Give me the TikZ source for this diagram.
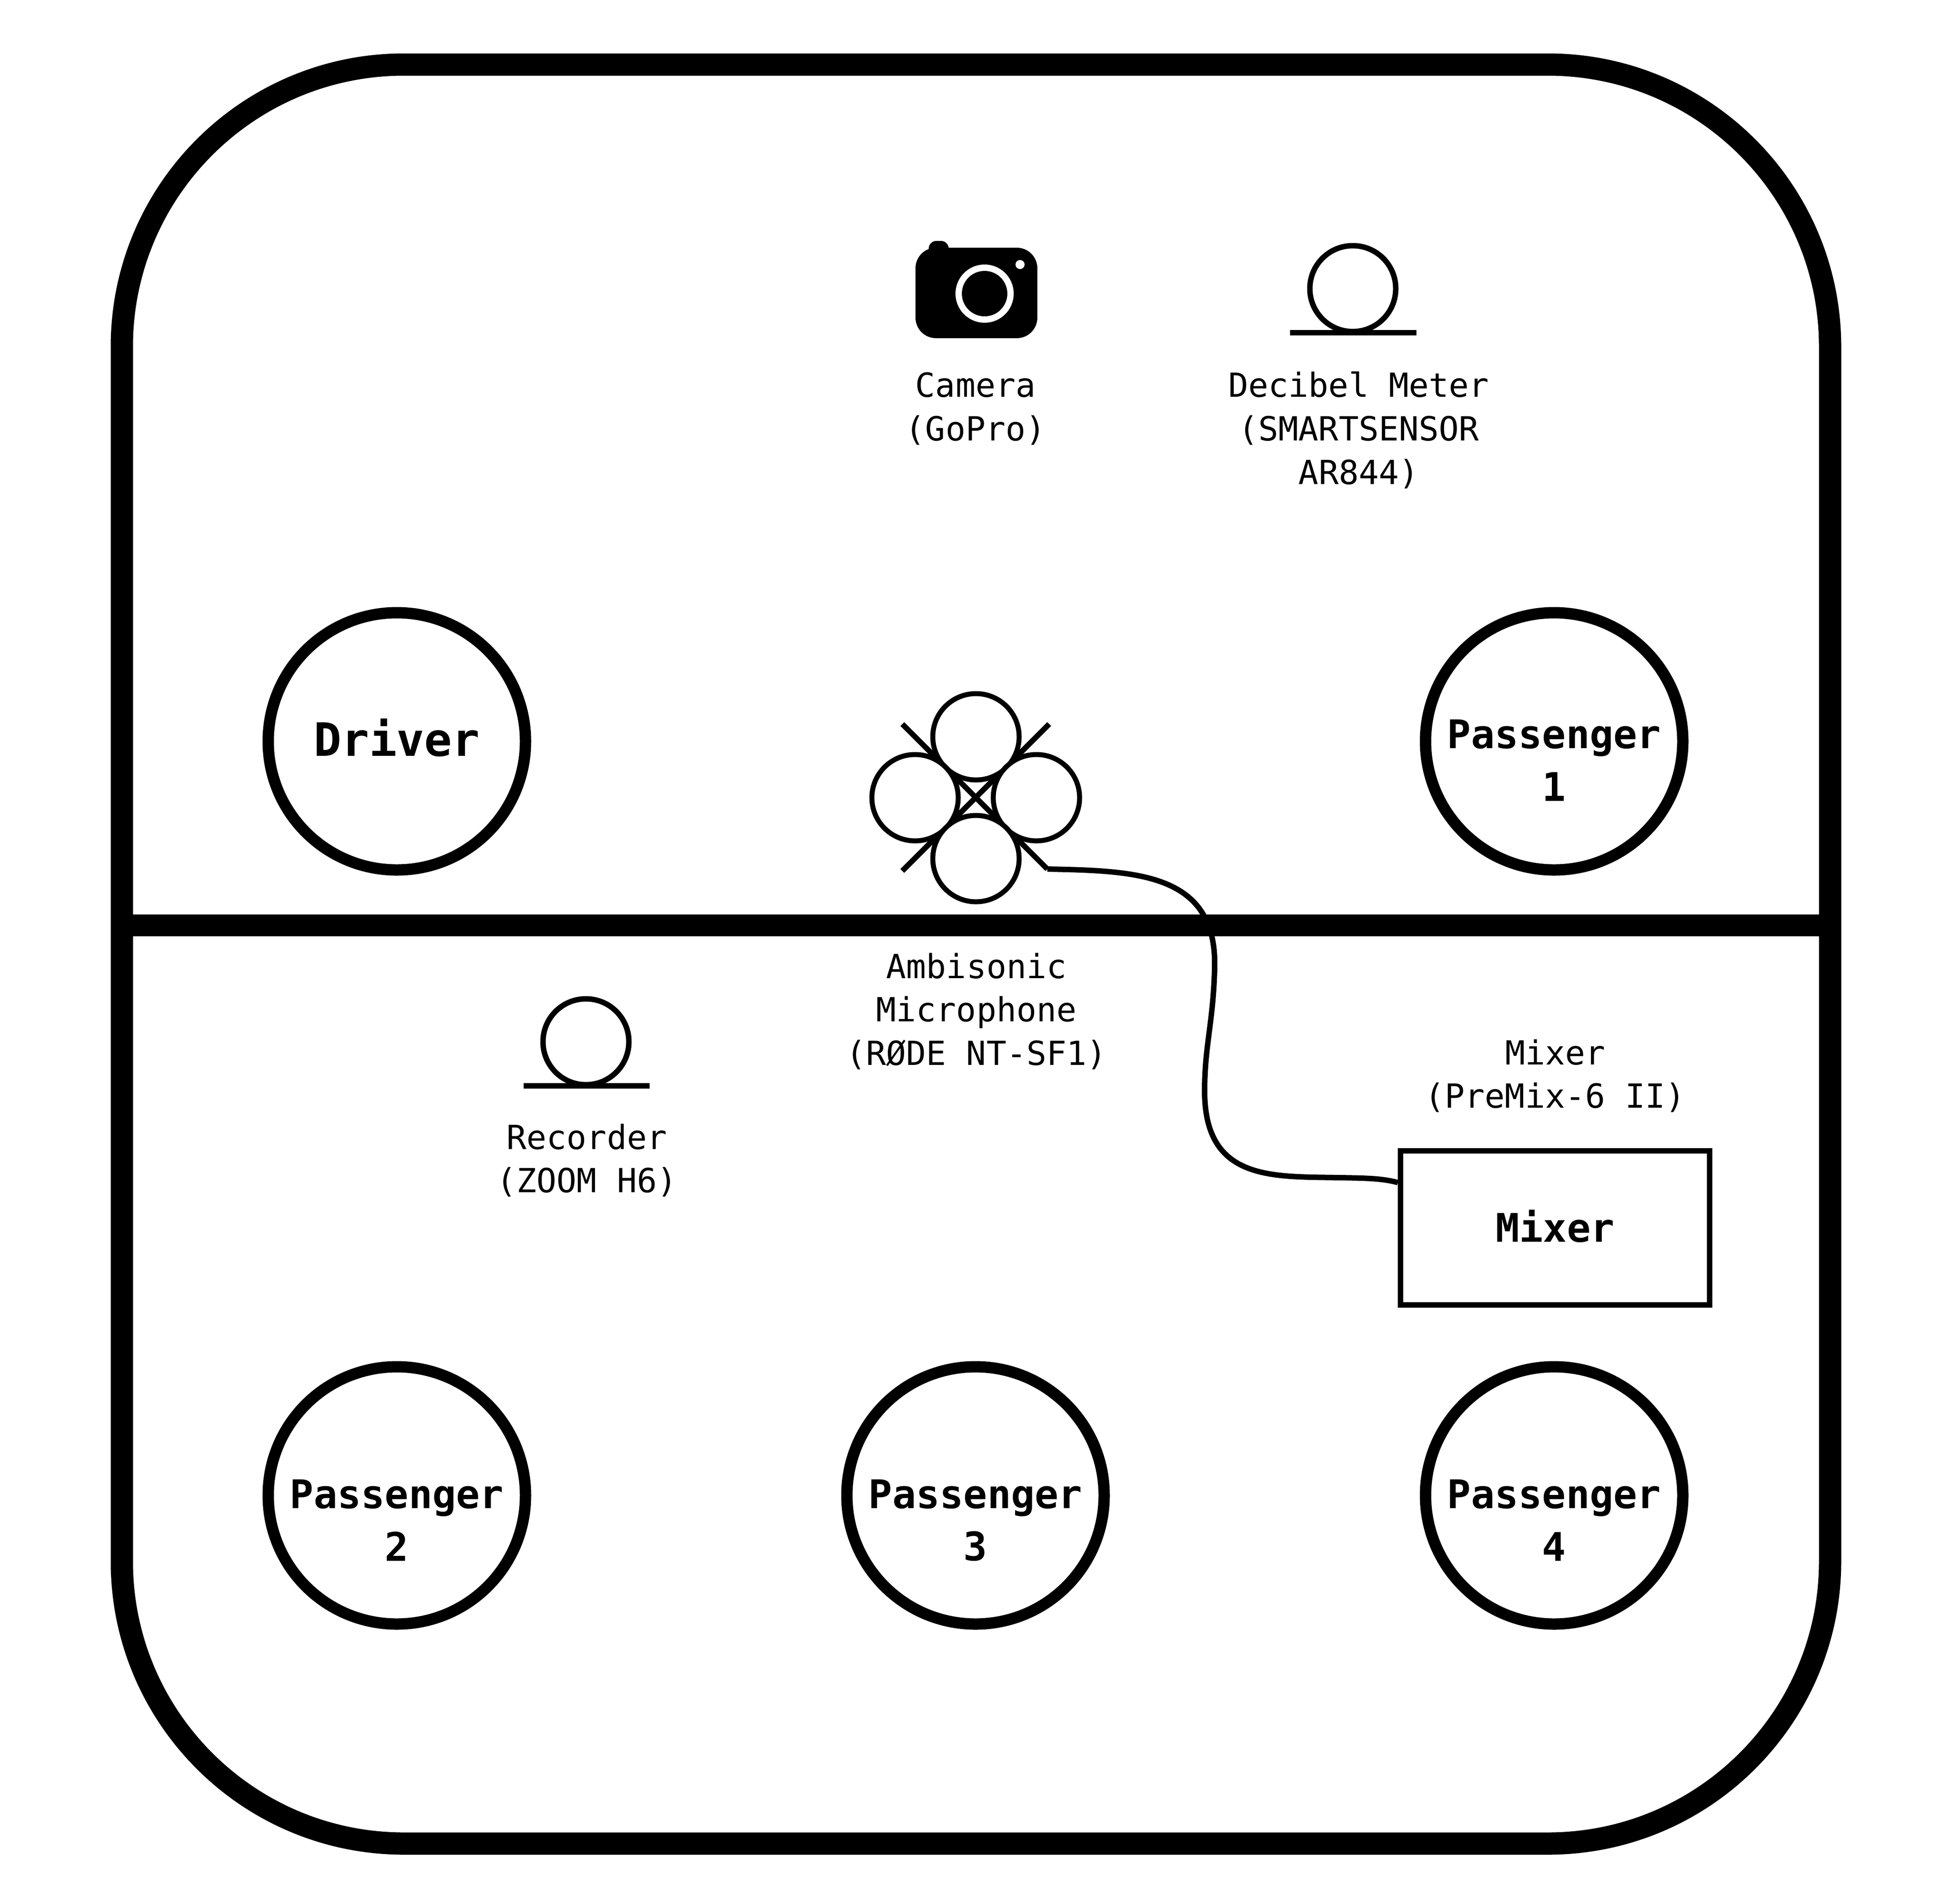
\documentclass[tikz,border=0pt]{standalone}
\usepackage{fontspec}
\setmonofont{DejaVu Sans Mono}
\usepackage{xcolor}
\usepackage{tikz}
\usetikzlibrary{positioning}
\tikzset{
  seat_n/.style = {circle, draw=black, line width=0.25cm, minimum size=5.66cm,
    inner sep=0pt},% passenger seat
  seat_t/.style = {align=center, inner sep=0pt,
    font=\fontsize{24.7}{32.9}\ttfamily\bfseries},% text inside a seat
  driver_t/.style = {seat_t, font=\fontsize{28.8}{36}\ttfamily\bfseries},% driver text
  box_n/.style = {rectangle, draw=black, line width=0.12cm, minimum width=6.8cm,
    minimum height=3.39cm},% mixer box
  capsule_n/.style = {circle, draw=black, fill=white, line width=0.11cm,
    minimum size=1.9cm, inner sep=0pt},% microphone capsule
  device_n/.style = {circle, draw=black, line width=0.12cm, minimum size=1.89cm,
    inner sep=0pt},% meter and recorder body
  caption_n/.style = {align=center, inner sep=0pt,
    font=\fontsize{20.8}{27.3}\ttfamily},% small text under a device
  wall_l/.style = {draw=black, line width=0.48cm},
  thin_l/.style = {draw=black, line width=0.12cm},
}

\begin{document}
\begin{tikzpicture}[y=-1cm]
\useasboundingbox (0,0) rectangle (42.92,41.88);
% cabin
\node [draw=black, line width=0.49cm, rounded corners=6.21cm, minimum width=37.58cm,
  minimum height=39.14cm] (cabin) at (21.47,20.99) {};
\coordinate (div_l) at (2.68,20.36);
\coordinate (div_r) at (40.26,20.36);
\draw [wall_l] (div_l) -- (div_r);
% seats
\node [seat_n, label={[driver_t, yshift=0.08cm]center:Driver}] (driver) at (8.73,16.31) {};
\node [seat_n, label={[seat_t, yshift=-0.42cm]center:Passenger\\1}] (pass1) at (34.19,16.31) {};
\node [seat_n, label={[seat_t, yshift=-0.55cm]center:Passenger\\2}] (pass2) at (8.73,32.90) {};
\node [seat_n, label={[seat_t, yshift=-0.55cm]center:Passenger\\3}] (pass3) at (21.46,32.90) {};
\node [seat_n, label={[seat_t, yshift=-0.55cm]center:Passenger\\4}] (pass4) at (34.19,32.90) {};
% camera
\fill [black, rounded corners=0.17cm] (20.43,5.80) rectangle (20.87,5.30);
\node [fill=black, rounded corners=0.45cm, minimum width=2.68cm, minimum height=1.99cm,
  inner sep=0pt] (camera) at (21.48,6.445) {};
\fill [white] (21.66,6.46) circle (0.64);
\fill [black] (21.66,6.46) circle (0.50);
\fill [white] (22.44,5.82) circle (0.10);
\node [caption_n] (cameratxt) at (21.46,8.99) {Camera\\(GoPro)};
% decibel meter
\node [device_n] (meter) at (29.76,6.35) {};
\coordinate (meter_l) at (28.38,7.32);
\coordinate (meter_r) at (31.16,7.32);
\draw [thin_l] (meter_l) -- (meter_r);
\node [caption_n] (metertxt) at (29.89,9.46) {Decibel Meter\\(SMARTSENSOR\\AR844)};
% recorder
\node [device_n] (rec) at (12.89,22.92) {};
\coordinate (rec_l) at (11.52,23.89);
\coordinate (rec_r) at (14.29,23.89);
\draw [thin_l] (rec_l) -- (rec_r);
\node [caption_n] (rectxt) at (12.91,25.53) {Recorder\\(ZOOM H6)};
% microphone
\coordinate (mic_nw) at (19.85,15.93);
\coordinate (mic_ne) at (23.08,15.93);
\coordinate (mic_sw) at (19.85,19.16);
\coordinate (mic_se) at (23.04,19.12);
\draw [thin_l] (mic_nw) -- (mic_se);
\draw [thin_l] (mic_ne) -- (mic_sw);
\node [capsule_n] (mic_t) at (21.47,16.21) {};
\node [capsule_n] (mic_l) at (20.13,17.55) {};
\node [capsule_n] (mic_r) at (22.80,17.55) {};
\node [capsule_n] (mic_b) at (21.47,18.89) {};
\node [caption_n] (mictxt) at (21.48,22.25) {Ambisonic\\Microphone\\(RØDE NT-SF1)};
% mixer
\node [box_n, label={[seat_t, yshift=0.03cm]center:Mixer}] (mixer) at (34.21,27.01) {};
\node [caption_n] (mixertxt) at (34.21,23.67) {Mixer\\(PreMix-6 II)};
% cable
\draw [thin_l] (mic_se) .. controls (25.00,19.16) and (26.78,19.20) .. (26.72,21.30)
  .. controls (26.69,22.50) and (26.50,23.00) .. (26.50,24.00)
  .. controls (26.50,26.00) and (28.00,25.88) .. (29.50,25.91)
  .. controls (30.00,25.92) and (30.40,25.92) .. (mixer.164.5);
\end{tikzpicture}
\end{document}
